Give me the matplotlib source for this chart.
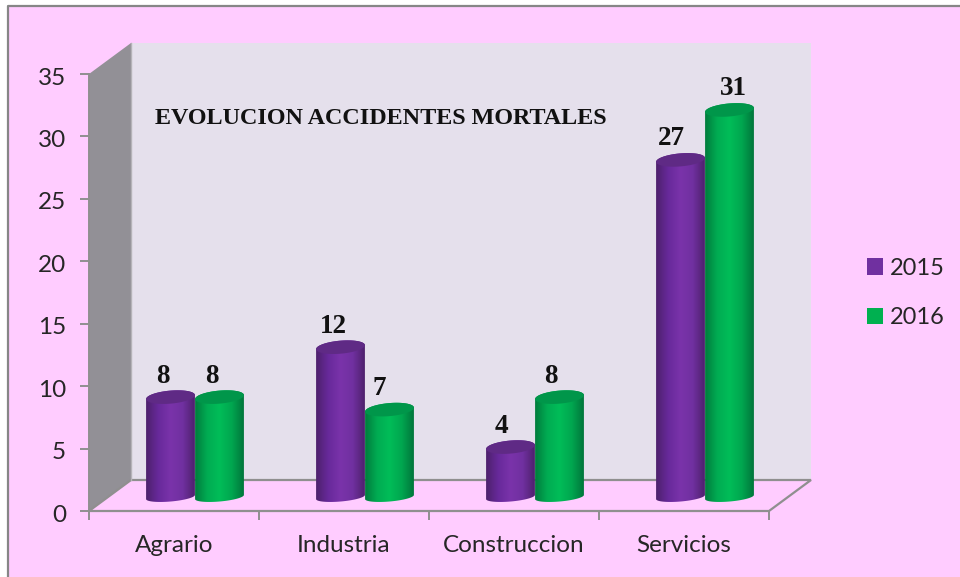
#!/usr/bin/env python3
import numpy as np
import matplotlib
matplotlib.use('Agg')
import matplotlib.pyplot as plt
from matplotlib.colors import LinearSegmentedColormap
from matplotlib.patches import Patch, Polygon, Rectangle
from matplotlib.transforms import ScaledTranslation

categories = ['Agrario', 'Industria', 'Construccion', 'Servicios']
series_names = ['2015', '2016']
values_2015 = [8, 12, 4, 27]
values_2016 = [8, 7, 8, 31]
y_ticks = [0, 5, 10, 15, 20, 25, 30, 35]
title = 'EVOLUCION ACCIDENTES MORTALES'

W, H = 960, 577
PINK = '#ffccff'
WALL = '#e5e0ec'
SIDE = '#929096'
GREY = '#8f8f8f'
TEXT = '#262626'

fig = plt.figure(figsize=(W / 100, H / 100), dpi=100, facecolor='white')

# pink panel, only top and left edges have a border
fig.patches.append(Rectangle((8 / W, 0), 1, 1 - 6 / H, transform=fig.transFigure,
                             facecolor=PINK, edgecolor='none', zorder=-5))
fig.add_artist(plt.Line2D([8 / W, 8 / W, 1], [0, 1 - 6 / H, 1 - 6 / H],
                          color='#868686', lw=1.6))

ax = fig.add_axes([89 / W, (H - 511) / H, 680 / W, 437 / H])
ax.patch.set_alpha(0)
ax.set_xlim(0, 4)
ax.set_ylim(0, 35)

px_x = 4 / 680      # data units per pixel
px_y = 35 / 437
dx = 42 * px_x      # depth of the fake 3d box
dy = 31 * px_y


def box_poly(pts, **kw):
    p = Polygon(pts, clip_on=False, **kw)
    ax.add_patch(p)


box_poly([(dx, dy), (4 + dx, dy), (4 + dx, 35 + dy), (dx, 35 + dy)], facecolor=WALL, edgecolor='none', zorder=1)
box_poly([(0, 0), (dx, dy), (dx, 35 + dy), (0, 35)], facecolor=SIDE, edgecolor='none', zorder=1.1)
box_poly([(0, 0), (4, 0), (4 + dx, dy), (dx, dy)], facecolor=PINK, edgecolor=GREY, lw=1.6, zorder=1.2)
ax.plot([dx, dx], [dy, 35 + dy], color='#b5b3b8', lw=1, zorder=1.3, clip_on=False)


def ellipse_pts(cx, cy, t, b):
    # slightly tilted ellipse, sized in pixels
    a, tilt = 24.5, np.radians(5)
    ex = a * np.cos(t) * np.cos(tilt) - b * np.sin(t) * np.sin(tilt)
    ey = a * np.cos(t) * np.sin(tilt) + b * np.sin(t) * np.cos(tilt)
    return cx + ex * px_x, cy + ey * px_y


def cylinder(cx, base, val, cmap, top_color, z):
    top = base + val
    x0, x1 = cx - 24.5 * px_x, cx + 24.5 * px_x
    bx, by = ellipse_pts(cx, base, np.linspace(np.pi, 2 * np.pi, 40), 4.5)
    tx, ty = ellipse_pts(cx, top, np.linspace(0, np.pi, 40), 6.5)
    body = Polygon(np.column_stack([np.r_[bx, tx], np.r_[by, ty]]), transform=ax.transData,
                   facecolor='none', edgecolor='none')
    ax.add_patch(body)
    im = ax.imshow(np.linspace(0, 1, 64).reshape(1, -1), extent=(x0 - px_x, x1 + px_x, base - 1, top + 1),
                   aspect='auto', cmap=cmap, vmin=0, vmax=1, zorder=z)
    im.set_clip_path(body)
    ex, ey = ellipse_pts(cx, top, np.linspace(0, 2 * np.pi, 80), 6.5)
    ax.fill(ex, ey, color=top_color, zorder=z + 0.01, clip_on=False, lw=0)


purple = LinearSegmentedColormap.from_list('p', ['#4c2069', '#67299a', '#7a33aa', '#7030a0', '#4c2069'])
green = LinearSegmentedColormap.from_list('g', ['#00793b', '#00ab52', '#00bd58', '#00a64f', '#00733a'])

bar_off = 24.5 * px_x
depth_x = 21 * px_x
base_y = 14 * px_y
label_shift_2015 = [-8, -7, -9, -9]
label_shift_2016 = [-8, -10, -9, 4]

for i in range(len(categories)):
    cx = i + 0.5 + depth_x
    cylinder(cx - bar_off, base_y, values_2015[i], purple, '#5f2a85', 3 + i * 0.1)
    cylinder(cx + bar_off, base_y, values_2016[i], green, '#00964a', 3.05 + i * 0.1)
    for off, vals, shifts in ((-bar_off, values_2015, label_shift_2015), (bar_off, values_2016, label_shift_2016)):
        ax.annotate(str(vals[i]), (cx + off, base_y + vals[i]), xytext=(shifts[i] * 0.72, 21 * 0.72),
                    textcoords='offset points', ha='center', va='center', fontsize=19.5,
                    fontweight='bold', family='Liberation Serif', color='#111111',
                    zorder=6, annotation_clip=False)

ax.set_xlim(0, 4)
ax.set_ylim(0, 35)

for s in ('top', 'right'):
    ax.spines[s].set_visible(False)
for s in ('left', 'bottom'):
    ax.spines[s].set_color(GREY)
    ax.spines[s].set_linewidth(1.4)
    ax.spines[s].set_zorder(2)

ax.set_yticks(y_ticks)
ax.set_xticks(range(5))
ax.set_xticklabels([])
ax.set_xticks(np.arange(4) + 0.5, labels=categories, minor=True)
ax.tick_params(axis='both', which='major', color=GREY, width=1.4, length=6.5)
ax.tick_params(axis='x', which='minor', length=0, pad=17.5)
ax.tick_params(axis='y', pad=10)
for lab in ax.get_yticklabels() + ax.get_xticklabels(minor=True):
    lab.set_family('Lato')
    lab.set_fontsize(17.5)
    lab.set_color(TEXT)
# y labels sit a little lower in the original
nudge = ScaledTranslation(0, -1.5 / 72, fig.dpi_scale_trans)
for lab in ax.get_yticklabels():
    lab.set_transform(lab.get_transform() + nudge)

fig.text(155 / W, 1 - 118 / H, title, fontsize=17.4, fontweight='bold', family='Liberation Serif',
         color='#111111', ha='left', va='center')

handles = [Patch(facecolor='#7030a0', label=series_names[0]), Patch(facecolor='#00b050', label=series_names[1])]
leg = fig.legend(handles=handles, loc='center left', bbox_to_anchor=(867 / W, 1 - 293 / H), frameon=False,
                 borderaxespad=0, borderpad=0, handlelength=0.68, handleheight=0.68, handletextpad=0.3,
                 labelspacing=1.2, prop={'family': 'Lato', 'size': 17}, labelcolor=TEXT)

fig.savefig('out.png', dpi=100, facecolor='white')
